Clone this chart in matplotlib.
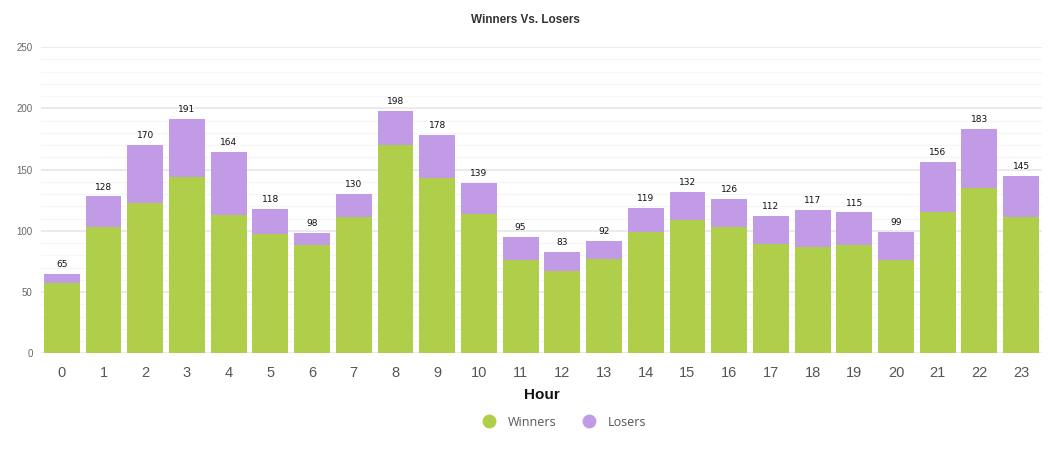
import matplotlib
matplotlib.use("Agg")
import matplotlib.pyplot as plt
from matplotlib.lines import Line2D
import numpy as np

hours = [str(h) for h in range(24)]
totals = [65, 128, 170, 191, 164, 118, 98, 130, 198, 178, 139, 95, 83, 92, 119, 132, 126, 112, 117, 115, 99, 156, 183, 145]
winners = [57, 103, 123, 144, 113, 97, 88, 111, 170, 143, 114, 76, 67, 77, 99, 109, 103, 89, 87, 88, 76, 115, 135, 111]
losers = [t - w for t, w in zip(totals, winners)]

green = "#afcf4b"
purple = "#c29be6"

plt.rcParams['font.family'] = ['Liberation Sans', 'DejaVu Sans']

fig = plt.figure(figsize=(10.51, 4.49), dpi=100)
ax = fig.add_axes([0.039, 0.2131, 0.9524, 0.6822])

x = np.arange(len(hours))
ax.bar(x, winners, width=0.86, color=green, edgecolor="none", zorder=3)
ax.bar(x, losers, width=0.86, bottom=winners, color=purple, edgecolor="none", zorder=3)

for xi, t in zip(x, totals):
    ax.text(xi, t + 4, str(t), ha="center", va="bottom", fontsize=6.5, color="#111111", zorder=4,
            family=['DejaVu Sans'])

ax.set_xlim(-0.5, 23.5)
ax.set_ylim(0, 250)
ax.set_yticks(range(0, 251, 50))
ax.set_yticks(range(0, 251, 10), minor=True)
ax.grid(axis="y", which="major", color="#e8e8e8", linewidth=1.2, zorder=0)
ax.grid(axis="y", which="minor", color="#f6f6f6", linewidth=1.0, zorder=0)
ax.set_xticks(x)
ax.set_xticklabels(hours)
ax.tick_params(axis="x", length=0, labelsize=10.5, labelcolor="#555555", pad=9)
ax.tick_params(axis="y", which="both", length=0, labelsize=7, labelcolor="#666666", pad=6)
for s in ax.spines.values():
    s.set_visible(False)

ax.set_xlabel("Hour", fontsize=11, fontweight="bold", color="#111111", labelpad=6)
fig.text(0.5, 0.955, "Winners Vs. Losers", ha="center", va="center", fontsize=8.5, fontweight="bold", color="#333333")

handles = [Line2D([], [], marker="o", linestyle="none", markersize=10, markerfacecolor=green, markeredgecolor="none"),
           Line2D([], [], marker="o", linestyle="none", markersize=10, markerfacecolor=purple, markeredgecolor="none")]
leg = fig.legend(handles, ["Winners", "Losers"], loc="center", bbox_to_anchor=(0.534, 0.06), ncol=2,
                 frameon=False, handletextpad=0.5, columnspacing=1.6,
                 prop={'family': ['Open Sans', 'DejaVu Sans'], 'size': 9})
for t in leg.get_texts():
    t.set_color("#555555")

fig.savefig("out.png", dpi=100, facecolor="white")
